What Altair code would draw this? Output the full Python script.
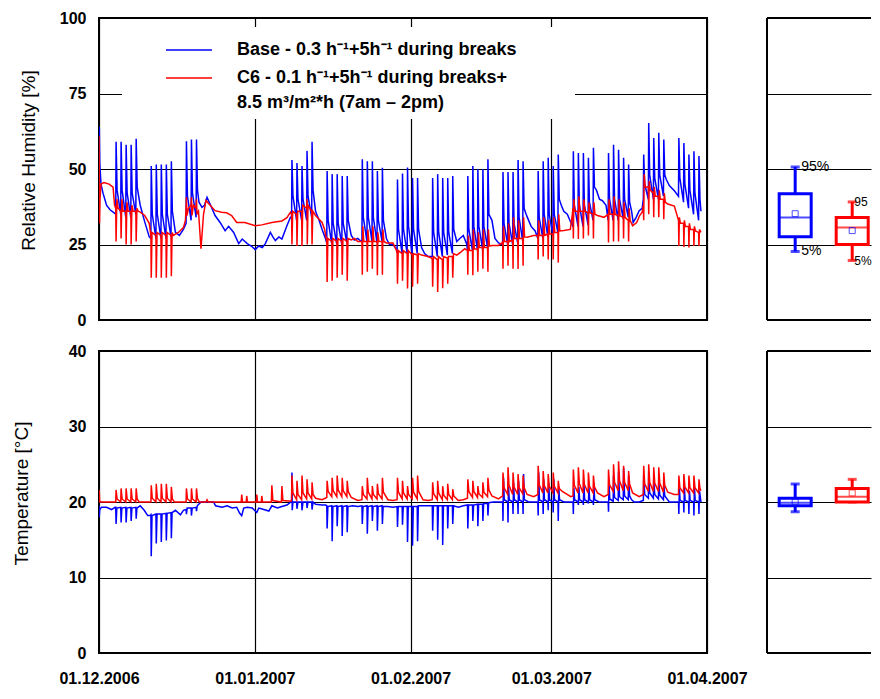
import altair as alt
import pandas as pd

FONT = "Liberation Sans, Arial, sans-serif"
BLUE = "#0000ff"
RED = "#ff0000"

SERIES = ["Base", "C6"]
LEGEND_LABELS = [
    "Base - 0.3 h\u207b\u00b9+5h\u207b\u00b9 during breaks",
    "C6 - 0.1 h\u207b\u00b9+5h\u207b\u00b9 during breaks+",
    "8.5 m\u00b3/m\u00b2*h (7am \u2013 2pm)",
]
RH_TITLE = "Relative Humidity [%]"
T_TITLE = "Temperature [\u00b0C]"
START = "2006-12-01"
MONTHS = ["2006-12-01", "2007-01-01", "2007-02-01", "2007-03-01", "2007-04-01"]

# [days since 01.12.2006, relative humidity %] - Base
BASE_RH = [
    [0.00, 58], [0.06, 64], [0.15, 52], [0.40, 45], [0.80, 42], [1.50, 38], [2.20, 36.5], [3.00, 35.5],
    [3.33, 35], [3.40, 59], [3.60, 43], [4.33, 35], [4.40, 59], [4.60, 43], [5.33, 34], [5.40, 58], [5.60, 42],
    [6.33, 34], [6.40, 58], [6.60, 42], [7.33, 35], [7.40, 60], [7.60, 44],
    [8.20, 38], [9.10, 32.5], [10.00, 27.5],
    [10.33, 27], [10.40, 51], [10.60, 35], [11.33, 27], [11.40, 51.5], [11.60, 35], [12.33, 27], [12.40, 51.5], [12.60, 35],
    [13.33, 27], [13.40, 51.5], [13.60, 35], [14.33, 27.5], [14.40, 52.6], [14.60, 36],
    [15.20, 29], [16.00, 28], [16.80, 30],
    [17.33, 32], [17.40, 59.2], [17.60, 41], [18.33, 33], [18.40, 59.8], [18.60, 42], [19.33, 34], [19.40, 59.8], [19.60, 43],
    [19.90, 39], [20.50, 37.3], [21.00, 38], [21.50, 40.6], [22.10, 38.4], [23.10, 34.6], [24.10, 32.3], [25.10, 29.6],
    [25.80, 31], [26.80, 29], [27.80, 25.3], [28.50, 26.8], [29.50, 25.3], [30.30, 24.5], [31.10, 23.3], [31.80, 24.5],
    [32.50, 24], [33.10, 25.3], [34.10, 29], [34.60, 27.5], [35.10, 26.3], [35.80, 27.5], [36.40, 26.8], [37.40, 31.2], [38.10, 34],
    [38.33, 34], [38.40, 53], [38.60, 41], [39.33, 33], [39.40, 52], [39.60, 40], [40.33, 33], [40.40, 51], [40.60, 40],
    [41.33, 33], [41.40, 56], [41.60, 41], [42.33, 34], [42.40, 59], [42.60, 43],
    [43.10, 36], [43.80, 33], [44.40, 30], [45.10, 26.8],
    [45.33, 25.5], [45.40, 49.3], [45.60, 33], [46.33, 25], [46.40, 48.3], [46.60, 32], [47.33, 25], [47.40, 48.3], [47.60, 32],
    [48.33, 25], [48.40, 47.7], [48.60, 32], [49.33, 25.5], [49.40, 47.7], [49.60, 33],
    [50.20, 28], [50.80, 26.5], [51.50, 27], [52.20, 26],
    [52.33, 26], [52.40, 53.2], [52.60, 34], [53.33, 26], [53.40, 52.6], [53.60, 34], [54.33, 26], [54.40, 52.6], [54.60, 34],
    [55.33, 25.5], [55.40, 49.3], [55.60, 33], [56.33, 26], [56.40, 50.4], [56.60, 33],
    [57.20, 27], [57.80, 25], [58.50, 25], [59.20, 23.5],
    [59.33, 22.5], [59.40, 46.5], [59.60, 30], [60.33, 22], [60.40, 48.5], [60.60, 30], [61.33, 22], [61.40, 50.5], [61.60, 31],
    [62.33, 21.5], [62.40, 47], [62.60, 30], [63.33, 22], [63.40, 47], [63.60, 30],
    [64.20, 24], [64.80, 22], [65.50, 21], [66.20, 21],
    [66.33, 21], [66.40, 47], [66.60, 29], [67.33, 21], [67.40, 48.3], [67.60, 29], [68.33, 21], [68.40, 47], [68.60, 29],
    [69.33, 21.5], [69.40, 47], [69.60, 29], [70.33, 22], [70.40, 47.7], [70.60, 30],
    [71.20, 26], [71.80, 27], [72.50, 28], [73.20, 25],
    [73.33, 23], [73.40, 47.7], [73.60, 30], [74.33, 23], [74.40, 51], [74.60, 31], [75.33, 23], [75.40, 50], [75.60, 31],
    [76.33, 23.5], [76.40, 50], [76.60, 31], [77.33, 24], [77.40, 53.2], [77.60, 35],
    [78.20, 33], [78.80, 27], [79.50, 25.5], [80.20, 25],
    [80.33, 25], [80.40, 49], [80.60, 32], [81.33, 25], [81.40, 49], [81.60, 32], [82.33, 25], [82.40, 49], [82.60, 32],
    [83.33, 25.5], [83.40, 53], [83.60, 34], [84.33, 26], [84.40, 52.6], [84.60, 37],
    [85.00, 35], [85.50, 33], [86.00, 31], [86.80, 29.5],
    [87.33, 27], [87.40, 49.3], [87.60, 34], [88.33, 27], [88.40, 52.6], [88.60, 35], [89.33, 27.5], [89.40, 53.7], [89.60, 35],
    [90.33, 28], [90.40, 51], [90.60, 35], [91.33, 29], [91.40, 54.8], [91.60, 40],
    [92.00, 38], [92.50, 36], [93.20, 35], [93.90, 32.3],
    [94.33, 31], [94.40, 55.9], [94.60, 38], [95.33, 31], [95.40, 55.3], [95.60, 38], [96.33, 31], [96.40, 55.3], [96.60, 38],
    [97.33, 31.5], [97.40, 53.7], [97.60, 39], [98.33, 33], [98.40, 57], [98.60, 44],
    [99.00, 43], [99.60, 40], [100.20, 39.5], [100.90, 38],
    [101.33, 33], [101.40, 55.3], [101.60, 40], [102.33, 33], [102.40, 58], [102.60, 40], [103.33, 33], [103.40, 56.4], [103.60, 40],
    [104.33, 33.5], [104.40, 53.7], [104.60, 40], [105.33, 34], [105.40, 51.5], [105.60, 39],
    [106.00, 36], [106.30, 32.3], [106.90, 34], [107.50, 36.2], [108.10, 37],
    [108.33, 40], [108.40, 54.8], [108.60, 45], [109.33, 40], [109.40, 65.2], [109.60, 48], [110.33, 40], [110.40, 60.3], [110.60, 47],
    [111.33, 40], [111.40, 62], [111.60, 48], [112.33, 41], [112.40, 59.8], [112.60, 48],
    [112.90, 46.5], [113.50, 44.5], [114.50, 42.8], [115.10, 41.5],
    [115.33, 41], [115.40, 60.3], [115.60, 47], [116.33, 39], [116.40, 58.6], [116.60, 45], [117.33, 37], [117.40, 54.8], [117.60, 43],
    [118.33, 35], [118.40, 55.9], [118.60, 42], [119.33, 33], [119.40, 54.3], [119.60, 40], [119.80, 36],
]

# [days, relative humidity %] - C6
C6_RH = [
    [0.00, 61], [0.05, 50], [0.10, 32], [0.20, 40], [0.40, 45], [1.00, 45.5], [2.00, 45], [2.80, 44], [3.10, 38],
    [3.33, 37], [3.40, 26], [3.55, 40], [3.80, 37], [4.33, 36], [4.40, 27], [4.55, 40], [4.80, 36], [5.33, 36], [5.40, 25], [5.55, 39], [5.80, 36],
    [6.33, 36], [6.40, 25], [6.55, 38], [6.80, 36], [7.33, 36], [7.40, 26], [7.55, 37], [7.80, 36],
    [8.20, 35.7], [9.10, 34.6], [10.00, 32],
    [10.33, 28], [10.40, 14], [10.55, 29], [11.33, 28], [11.40, 14], [11.55, 29], [12.33, 28], [12.40, 14], [12.55, 29],
    [13.33, 28], [13.40, 14], [13.55, 29], [14.33, 28], [14.40, 14.5], [14.55, 29],
    [14.80, 28], [15.80, 29], [16.80, 30.6],
    [17.20, 33], [17.33, 37], [17.40, 40.6], [17.50, 34.6], [17.80, 37], [18.33, 38], [18.40, 40.6], [18.50, 34.6], [18.80, 38],
    [19.33, 37], [19.40, 40], [19.50, 35], [19.80, 36],
    [20.30, 23.6], [20.80, 35], [21.30, 39.6], [21.90, 38.4], [23.10, 36.2], [24.40, 35.7], [25.40, 35.5], [26.40, 34.6],
    [27.40, 32.3], [29.00, 32.3], [31.10, 31.2], [32.40, 31.5], [34.40, 32.3], [36.40, 32.8], [37.40, 33.9], [38.10, 35.7],
    [38.33, 35], [38.40, 25], [38.55, 36], [39.33, 35], [39.40, 24.5], [39.55, 36], [40.33, 36], [40.40, 24.5], [40.55, 38],
    [41.33, 37], [41.40, 40], [41.45, 25], [41.60, 38], [42.33, 36], [42.40, 25], [42.55, 36],
    [43.10, 34.6], [44.40, 32.3], [44.90, 30],
    [45.33, 26], [45.40, 12.6], [45.55, 27], [46.33, 26], [46.40, 13], [46.55, 27], [47.33, 26], [47.40, 14], [47.55, 27],
    [48.33, 26], [48.40, 15], [48.55, 27], [49.33, 26], [49.40, 13], [49.55, 27],
    [50.20, 26.5], [50.80, 27], [51.50, 26], [52.20, 26],
    [52.33, 26], [52.40, 15], [52.50, 31], [52.70, 26], [53.33, 26], [53.40, 16], [53.50, 30], [53.70, 26],
    [54.33, 26], [54.40, 17], [54.50, 31], [54.70, 26], [55.33, 26], [55.40, 14.8], [55.50, 29], [55.70, 26],
    [56.33, 26], [56.40, 15], [56.50, 30], [56.70, 26],
    [57.20, 25.5], [58.50, 25.5], [59.20, 23],
    [59.33, 22], [59.40, 12], [59.55, 23], [60.33, 22], [60.40, 13], [60.55, 23], [61.33, 22], [61.40, 10.4], [61.55, 23],
    [62.33, 21.5], [62.40, 11], [62.55, 22], [63.33, 21.5], [63.40, 12], [63.55, 22],
    [64.20, 21.5], [65.50, 21], [66.20, 20.5],
    [66.33, 20], [66.40, 11], [66.55, 21], [67.33, 20], [67.40, 9.3], [67.55, 21], [68.33, 20], [68.40, 10.5], [68.55, 21],
    [69.33, 20.5], [69.40, 12], [69.55, 21], [70.33, 21], [70.40, 14], [70.55, 22],
    [71.20, 21.5], [72.00, 22.5], [72.80, 23.6],
    [73.33, 23], [73.40, 15], [73.50, 28], [73.70, 23], [74.33, 23], [74.40, 14.8], [74.50, 30], [74.70, 23.5],
    [75.33, 23.5], [75.40, 16], [75.50, 29], [75.70, 24], [76.33, 24], [76.40, 17], [76.50, 30], [76.70, 24],
    [77.33, 24], [77.40, 16], [77.50, 30], [77.70, 24.5],
    [78.20, 24.7], [79.50, 24.7], [80.20, 25.5],
    [80.33, 26], [80.40, 17], [80.50, 31], [80.70, 26], [81.33, 26], [81.40, 18], [81.50, 32], [81.70, 26],
    [82.33, 26.5], [82.40, 17], [82.50, 34], [82.70, 27], [83.33, 27], [83.40, 16.9], [83.50, 33], [83.70, 27],
    [84.33, 27], [84.40, 18], [84.50, 34], [84.70, 27.5],
    [85.20, 27.4], [86.50, 28],
    [87.33, 28], [87.40, 20], [87.50, 33], [87.70, 28], [88.33, 28], [88.40, 21], [88.50, 34], [88.70, 28],
    [89.33, 28.5], [89.40, 20], [89.50, 33], [89.70, 28.5], [90.33, 28.5], [90.40, 20], [90.50, 34], [90.70, 29],
    [91.33, 29], [91.40, 19], [91.50, 35], [91.70, 29.5],
    [92.50, 29.6], [93.80, 30],
    [94.20, 35], [94.33, 37], [94.40, 27], [94.50, 40], [94.70, 36], [95.33, 36], [95.40, 26.8], [95.50, 41], [95.70, 36],
    [96.33, 36], [96.40, 27], [96.50, 40], [96.70, 36], [97.33, 35.5], [97.40, 28], [97.50, 39], [97.70, 35.5],
    [98.33, 35], [98.40, 27], [98.50, 39], [98.70, 35],
    [99.20, 34.6], [100.50, 34],
    [101.33, 35], [101.40, 25.7], [101.50, 40], [101.70, 35], [102.33, 35], [102.40, 26], [102.50, 41], [102.70, 35],
    [103.33, 34.5], [103.40, 26], [103.50, 40], [103.70, 34.5], [104.33, 34], [104.40, 27], [104.50, 39], [104.70, 34],
    [105.33, 33], [105.40, 26], [105.50, 37], [105.70, 33],
    [106.20, 31.2], [107.00, 32.3], [107.60, 34.6], [108.10, 35.7],
    [108.33, 38], [108.40, 33], [108.50, 48.3], [108.70, 44], [109.33, 44], [109.40, 35], [109.50, 46], [109.70, 43],
    [110.33, 42], [110.40, 34], [110.50, 44], [110.70, 41], [111.33, 41], [111.40, 34], [111.50, 43], [111.70, 40],
    [112.33, 40], [112.40, 33.4], [112.50, 42], [112.70, 39],
    [113.20, 38.4], [114.50, 37.7],
    [115.33, 33], [115.40, 24.5], [115.50, 34], [115.70, 32], [116.33, 32], [116.40, 24.2], [116.50, 33], [116.70, 31],
    [117.33, 31], [117.40, 24], [117.50, 32], [117.70, 30], [118.33, 30], [118.40, 24.5], [118.50, 31], [118.70, 29.5],
    [119.33, 29], [119.40, 24.5], [119.50, 30], [119.80, 29],
]

# [days, temperature degC] - Base
BASE_T = [
    [0.00, 19.5], [0.05, 18], [0.15, 19], [0.50, 19.3], [1.50, 19.3], [2.50, 19], [3.20, 19.3],
    [3.33, 19.3], [3.40, 17.1], [3.55, 19.2], [4.33, 19.3], [4.40, 17.3], [4.55, 19.2], [5.33, 19.3], [5.40, 17.3], [5.55, 19.2],
    [6.33, 19.3], [6.40, 17.5], [6.55, 19.2], [7.33, 19.3], [7.40, 17.8], [7.55, 19.2],
    [8.20, 19.5], [9.00, 18.9], [9.70, 18.2], [10.20, 18.2],
    [10.33, 18.3], [10.40, 12.8], [10.55, 18.2], [11.33, 18.4], [11.40, 14.5], [11.55, 18.4], [12.33, 18.4], [12.40, 14.7], [12.55, 18.4],
    [13.33, 18.5], [13.40, 14.9], [13.55, 18.5], [14.33, 18.6], [14.40, 15.2], [14.55, 18.6],
    [15.20, 18.9], [16.20, 18.3], [16.80, 18.9],
    [17.33, 19], [17.40, 18.4], [17.55, 19.2], [18.33, 19.2], [18.40, 18.2], [18.55, 19.2], [19.33, 19.3], [19.40, 18.8], [19.55, 19.5],
    [20.30, 20], [22.80, 20], [23.20, 19.5], [24.50, 19.3], [25.50, 19.5], [26.50, 19.2], [27.40, 19.3], [28.00, 18.5],
    [28.40, 18.2], [28.80, 19.2], [29.50, 19.3], [30.50, 19.2], [31.40, 18.6], [31.80, 19.2], [32.80, 19], [33.80, 18.8],
    [34.40, 19.5], [35.50, 19.2], [36.40, 19.4], [37.40, 19.6], [38.20, 20],
    [38.33, 20], [38.40, 23.9], [38.45, 18.9], [38.60, 20], [39.33, 20], [39.40, 19.1], [39.60, 20], [40.33, 20], [40.40, 18.9], [40.60, 20],
    [41.33, 20], [41.40, 19.2], [41.60, 20], [42.33, 20], [42.40, 19], [42.60, 20],
    [43.10, 19.7], [44.40, 19.6], [45.10, 19.6],
    [45.33, 19.5], [45.40, 16.5], [45.55, 19.4], [46.33, 19.5], [46.40, 14.8], [46.55, 19.4], [47.33, 19.5], [47.40, 16.8], [47.55, 19.4],
    [48.33, 19.5], [48.40, 15.5], [48.55, 19.4], [49.33, 19.5], [49.40, 16], [49.55, 19.4],
    [50.50, 19.5], [51.50, 19.4],
    [52.33, 19.5], [52.40, 17.1], [52.55, 19.4], [53.33, 19.5], [53.40, 15.8], [53.55, 19.4], [54.33, 19.5], [54.40, 17.5], [54.55, 19.4],
    [55.33, 19.5], [55.40, 16.2], [55.55, 19.4], [56.33, 19.5], [56.40, 17.1], [56.55, 19.4],
    [57.50, 19.4], [58.50, 19.3],
    [59.33, 19.4], [59.40, 16.7], [59.55, 19.4], [60.33, 19.4], [60.40, 17], [60.55, 19.4], [61.33, 19.4], [61.40, 14.7], [61.55, 19.4],
    [62.33, 19.4], [62.40, 14.2], [62.55, 19.4], [63.33, 19.4], [63.40, 14.8], [63.55, 19.5],
    [64.50, 19.5], [65.50, 19.5],
    [66.33, 19.5], [66.40, 16.2], [66.55, 19.5], [67.33, 19.5], [67.40, 15], [67.55, 19.5], [68.33, 19.5], [68.40, 14.3], [68.55, 19.5],
    [69.33, 19.5], [69.40, 16.5], [69.55, 19.5], [70.33, 19.5], [70.40, 17.1], [70.55, 19.5],
    [71.50, 19.3], [72.50, 19.5],
    [73.33, 19.6], [73.40, 16.5], [73.55, 19.6], [74.33, 19.6], [74.40, 17.5], [74.55, 19.6], [75.33, 19.7], [75.40, 16.8], [75.55, 19.7],
    [76.33, 19.7], [76.40, 17.5], [76.55, 19.8], [77.33, 19.8], [77.40, 18.2], [77.55, 19.9],
    [78.50, 20], [79.50, 20],
    [80.33, 20], [80.40, 17.5], [80.50, 23.2], [80.65, 20.3], [81.33, 20], [81.40, 17.3], [81.50, 22], [81.65, 20.3],
    [82.33, 20], [82.40, 18.4], [82.50, 22.5], [82.65, 20.3], [83.33, 20], [83.40, 18.4], [83.50, 22.8], [83.65, 20.3],
    [84.33, 20], [84.40, 18.4], [84.50, 23.7], [84.65, 20.3],
    [85.50, 20], [86.50, 20],
    [87.33, 20], [87.40, 18.2], [87.50, 23.9], [87.65, 20.3], [88.33, 20], [88.40, 18.4], [88.50, 23], [88.65, 20.3],
    [89.33, 20], [89.40, 18.9], [89.50, 22.5], [89.65, 20.3], [90.33, 20], [90.40, 18.6], [90.50, 23], [90.65, 20.3],
    [91.33, 20], [91.40, 17.5], [91.50, 22], [91.65, 20.3],
    [92.50, 20], [93.50, 20],
    [94.33, 20], [94.40, 18.4], [94.50, 21.9], [94.65, 20.3], [95.33, 20], [95.40, 19.6], [95.50, 22], [95.65, 20.3],
    [96.33, 20], [96.40, 19.6], [96.50, 22.5], [96.65, 20.3], [97.33, 20], [97.40, 19.8], [97.50, 22], [97.65, 20.3],
    [98.33, 20], [98.40, 19.6], [98.50, 22], [98.65, 20.3],
    [99.50, 20], [100.50, 20],
    [101.33, 20], [101.40, 18.7], [101.50, 22.5], [101.65, 20.4], [102.33, 20.1], [102.40, 23.5], [102.60, 20.6],
    [103.33, 20.2], [103.40, 24], [103.60, 20.7], [104.33, 20.3], [104.40, 24.5], [104.60, 20.8], [105.33, 20.3], [105.40, 23.5], [105.60, 20.8],
    [106.00, 20.3], [106.50, 20], [107.50, 20],
    [108.33, 20.2], [108.40, 23.5], [108.60, 21], [109.33, 20.5], [109.40, 24], [109.60, 21.2], [110.33, 20.5], [110.40, 23], [110.60, 21],
    [111.33, 20.4], [111.40, 23], [111.60, 20.9], [112.33, 20.3], [112.40, 22.5], [112.60, 20.8],
    [113.50, 20], [114.50, 20],
    [115.33, 20], [115.40, 18.4], [115.50, 21.8], [115.65, 20.2], [116.33, 20], [116.40, 18.6], [116.50, 22], [116.65, 20.2],
    [117.33, 20], [117.40, 18.4], [117.50, 21.5], [117.65, 20.2], [118.33, 20], [118.40, 18.2], [118.50, 22], [118.65, 20.2],
    [119.33, 20], [119.40, 18.4], [119.50, 21.5], [119.80, 20],
]

# [days, temperature degC] - C6
C6_T = [
    [0.00, 20], [0.04, 21.6], [0.15, 20], [3.20, 20],
    [3.33, 20], [3.40, 21.6], [3.60, 20.4], [4.33, 20], [4.40, 21.8], [4.60, 20.4], [5.33, 20], [5.40, 21.8], [5.60, 20.4],
    [6.33, 20], [6.40, 21.8], [6.60, 20.4], [7.33, 20], [7.40, 21.8], [7.60, 20.4], [8.00, 20],
    [10.33, 20], [10.40, 22.2], [10.60, 20.5], [11.33, 20], [11.40, 22.4], [11.60, 20.5], [12.33, 20], [12.40, 22.4], [12.60, 20.5],
    [13.33, 20], [13.40, 22.4], [13.60, 20.5], [14.33, 20], [14.40, 22], [14.60, 20.4], [15.00, 20],
    [17.33, 20], [17.40, 21.8], [17.60, 20.4], [18.33, 20], [18.40, 21.8], [18.60, 20.4], [19.33, 20], [19.40, 21.8], [19.60, 20.4], [20.00, 20],
    [21.30, 20], [21.50, 20.3], [21.70, 20], [28.30, 20], [28.40, 21], [28.55, 20], [29.30, 20], [29.40, 20.8], [29.55, 20],
    [31.30, 20], [31.40, 21], [31.55, 20], [32.30, 20], [32.40, 20.8], [32.55, 20], [34.30, 20], [34.40, 22.2], [34.60, 20.2],
    [36.30, 20], [36.40, 22.1], [36.60, 20.2], [38.20, 20.1],
    [38.33, 20.3], [38.40, 23.5], [38.60, 21.2], [39.33, 20.3], [39.40, 22.8], [39.60, 21], [40.33, 20.3], [40.40, 23.5], [40.60, 21.2],
    [41.33, 20.4], [41.40, 23], [41.60, 21.2], [42.33, 20.4], [42.40, 22.6], [42.60, 21],
    [43.10, 20.5], [44.40, 20.3],
    [45.33, 20.6], [45.40, 22.8], [45.60, 21.4], [46.33, 20.7], [46.40, 23.2], [46.60, 21.5], [47.33, 20.7], [47.40, 23.5], [47.60, 21.6],
    [48.33, 20.7], [48.40, 23.2], [48.60, 21.5], [49.33, 20.7], [49.40, 22.8], [49.60, 21.4],
    [50.20, 20.6], [51.50, 20.2],
    [52.33, 20.3], [52.40, 22.1], [52.60, 21], [53.33, 20.4], [53.40, 23.2], [53.60, 21.3], [54.33, 20.4], [54.40, 22.1], [54.60, 21],
    [55.33, 20.4], [55.40, 22.4], [55.60, 21.1], [56.33, 20.4], [56.40, 23.2], [56.60, 21.3],
    [57.50, 20.3], [58.50, 20.2],
    [59.33, 20.3], [59.40, 23.2], [59.60, 21.3], [60.33, 20.4], [60.40, 22.8], [60.60, 21.2], [61.33, 20.4], [61.40, 22.1], [61.60, 21],
    [62.33, 20.4], [62.40, 23.2], [62.60, 21.3], [63.33, 20.4], [63.40, 23.5], [63.60, 21.4],
    [64.50, 20.3], [65.50, 20.2],
    [66.33, 20.3], [66.40, 22.6], [66.60, 21.1], [67.33, 20.3], [67.40, 22.8], [67.60, 21.2], [68.33, 20.3], [68.40, 22.1], [68.60, 20.9],
    [69.33, 20.3], [69.40, 22.4], [69.60, 21], [70.33, 20.3], [70.40, 21.7], [70.60, 20.8],
    [71.50, 20.2], [72.50, 20.3],
    [73.33, 20.5], [73.40, 23], [73.60, 21.4], [74.33, 20.6], [74.40, 22.8], [74.60, 21.4], [75.33, 20.6], [75.40, 22.1], [75.60, 21.1],
    [76.33, 20.6], [76.40, 22.6], [76.60, 21.3], [77.33, 20.7], [77.40, 23.2], [77.60, 21.6],
    [78.20, 20.8], [79.50, 20.4],
    [80.33, 20.8], [80.40, 23.9], [80.60, 21.9], [81.33, 21], [81.40, 24.6], [81.60, 22.2], [82.33, 21], [82.40, 23.9], [82.60, 22],
    [83.33, 21], [83.40, 23.7], [83.60, 21.9], [84.33, 21.1], [84.40, 23.5], [84.60, 21.9],
    [85.20, 21], [86.50, 20.7],
    [87.33, 21], [87.40, 24.8], [87.60, 22.3], [88.33, 21.2], [88.40, 24.1], [88.60, 22.2], [89.33, 21.2], [89.40, 23.7], [89.60, 22.1],
    [90.33, 21.2], [90.40, 23.9], [90.60, 22.1], [91.33, 21.2], [91.40, 22.8], [91.60, 21.8],
    [92.20, 21.4], [93.90, 20.7],
    [94.33, 20.8], [94.40, 24.3], [94.60, 22.2], [95.33, 21.2], [95.40, 24.6], [95.60, 22.4], [96.33, 21.2], [96.40, 24.3], [96.60, 22.3],
    [97.33, 21.2], [97.40, 23.9], [97.60, 22.1], [98.33, 21.2], [98.40, 23.5], [98.60, 22],
    [99.20, 21.2], [100.50, 20.7],
    [101.33, 21], [101.40, 24.3], [101.60, 22.3], [102.33, 21.4], [102.40, 25], [102.60, 22.6], [103.33, 21.5], [103.40, 25.4], [103.60, 22.8],
    [104.33, 21.5], [104.40, 24.8], [104.60, 22.6], [105.33, 21.5], [105.40, 24.1], [105.60, 22.4],
    [106.20, 21.2], [107.50, 20.7],
    [108.33, 21], [108.40, 24.8], [108.60, 22.4], [109.33, 21.4], [109.40, 25], [109.60, 22.6], [110.33, 21.4], [110.40, 24.6], [110.60, 22.5],
    [111.33, 21.4], [111.40, 24.6], [111.60, 22.5], [112.33, 21.3], [112.40, 23.9], [112.60, 22.2],
    [113.20, 21.3], [114.50, 21],
    [115.33, 21], [115.40, 23.5], [115.60, 21.9], [116.33, 21.2], [116.40, 23.7], [116.60, 22], [117.33, 21.2], [117.40, 23.5], [117.60, 21.9],
    [118.33, 21.2], [118.40, 23.5], [118.60, 21.9], [119.33, 21.2], [119.40, 23], [119.60, 21.8], [119.80, 21.5],
]

# box plot statistics: 5%, 25%, median, 75%, 95%, mean
RH_P5 = [22.7, 19.7]
RH_Q1 = [27.6, 25.0]
RH_MED = [33.9, 30.6]
RH_Q3 = [41.8, 33.9]
RH_P95 = [50.7, 39.1]
RH_MEAN = [35.2, 29.6]

T_P5 = [18.7, 20.0]
T_Q1 = [19.5, 20.0]
T_MED = [19.9, 20.7]
T_Q3 = [20.5, 21.8]
T_P95 = [22.4, 23.0]
T_MEAN = [20.0, 21.2]

# percentile labels as visible next to each box (the C6 ones are cut at the page edge)
P95_LABELS = ["95%", "95"]
P5_LABELS = ["5%", "5%"]


def series_frame(pairs, name):
    df = pd.DataFrame(pairs, columns=["day", "value"])
    ts = pd.Timestamp(START) + pd.to_timedelta(df["day"], unit="D")
    df["time"] = ts.dt.strftime("%Y-%m-%dT%H:%M:%S")
    df["series"] = name
    return df


def dt(s):
    t = pd.Timestamp(s)
    return alt.DateTime(year=t.year, month=t.month, date=t.day)


color_scale = alt.Scale(domain=SERIES, range=[BLUE, RED])
x_scale = alt.Scale(domain=[dt(MONTHS[0]), dt(MONTHS[-1])])
month_values = [dt(m) for m in MONTHS]

W_LEFT, W_RIGHT, H = 608, 104, 302


def line_panel(blue_pairs, red_pairs, ymax, yvals, title, title_x, show_x_labels):
    x_axis = alt.Axis(values=month_values, grid=True, labels=show_x_labels, format="%d.%m.%Y",
                      labelFlush=False, labelOverlap=False, labelPadding=17, title=None)
    y_axis = alt.Axis(values=yvals, grid=True, labelPadding=13, title=title,
                      titleX=title_x, titleY=142, titleBaseline="middle", titleAngle=270)
    enc_x = alt.X("time:T", scale=x_scale, axis=x_axis)
    enc_y = alt.Y("value:Q", scale=alt.Scale(domain=[0, ymax], nice=False), axis=y_axis)
    blue = alt.Chart(series_frame(blue_pairs, SERIES[0])).mark_line(
        color=BLUE, strokeWidth=1.5, clip=True).encode(x=enc_x, y=enc_y)
    red = alt.Chart(series_frame(red_pairs, SERIES[1])).mark_line(
        color=RED, strokeWidth=1.5, clip=True).encode(x=enc_x, y=enc_y)
    return blue, red


rh_blue, rh_red = line_panel(BASE_RH, C6_RH, 100, [0, 25, 50, 75, 100], RH_TITLE, -71, False)
t_blue, t_red = line_panel(BASE_T, C6_T, 40, [0, 10, 20, 30, 40], T_TITLE, -78, True)

one = pd.DataFrame({"k": [0]})
legend_box = alt.Chart(one).mark_rect(fill="white").encode(
    x=alt.value(23), x2=alt.value(476), y=alt.value(9), y2=alt.value(101))
leg_blue = alt.Chart(one).mark_rule(color=BLUE, strokeWidth=1.5).encode(
    x=alt.value(67), x2=alt.value(113), y=alt.value(32))
leg_red = alt.Chart(one).mark_rule(color=RED, strokeWidth=1.5).encode(
    x=alt.value(67), x2=alt.value(113), y=alt.value(60))
leg_texts = [
    alt.Chart(one).mark_text(align="left", baseline="middle", font=FONT, fontSize=18,
                             fontWeight="bold", color="black").encode(
        x=alt.value(138), y=alt.value(yy), text=alt.value(lbl))
    for lbl, yy in zip(LEGEND_LABELS, [32, 60, 85])
]

rh_chart = alt.layer(legend_box, rh_blue, rh_red, leg_blue, leg_red, *leg_texts).properties(
    width=W_LEFT, height=H)
t_chart = alt.layer(t_blue, t_red).properties(width=W_LEFT, height=H)


def box_panel(p5, q1, med, q3, p95, mean, ymax, yvals, with_labels, mean_blue):
    df = pd.DataFrame({"series": SERIES, "p5": p5, "q1": q1, "med": med, "q3": q3,
                       "p95": p95, "mean": mean, "l95": P95_LABELS, "l5": P5_LABELS})
    xs = alt.X("series:N", scale=alt.Scale(type="point", padding=0.412, align=0.6), axis=None)
    ysc = alt.Scale(domain=[0, ymax], nice=False)
    y_axis = alt.Axis(values=yvals, grid=True, labels=False, title=None)
    col = alt.Color("series:N", scale=color_scale, legend=None)
    base = alt.Chart(df)
    top = base.mark_rule(color="black", strokeWidth=2).encode(y=alt.datum(ymax, scale=ysc))
    bottom = base.mark_rule(color="black", strokeWidth=2).encode(y=alt.datum(0))
    left = base.mark_rule(color="black", strokeWidth=2).encode(x=alt.value(0))
    whisk_lo = base.mark_rule(strokeWidth=3).encode(
        x=xs, y=alt.Y("p5:Q", scale=ysc, axis=y_axis), y2="q1", color=col)
    whisk_hi = base.mark_rule(strokeWidth=3).encode(x=xs, y="q3:Q", y2="p95", color=col)
    cap_lo = base.mark_tick(orient="horizontal", size=9, thickness=3).encode(x=xs, y="p5:Q", color=col)
    cap_hi = base.mark_tick(orient="horizontal", size=9, thickness=3).encode(x=xs, y="p95:Q", color=col)
    box = base.mark_bar(width=32, fill="white", strokeWidth=3).encode(
        x=xs, y="q1:Q", y2="q3", stroke=alt.Stroke("series:N", scale=color_scale, legend=None))
    median = base.mark_tick(orient="horizontal", size=32, thickness=2).encode(x=xs, y="med:Q", color=col)
    if mean_blue:
        mean_pt = base.mark_point(shape="square", size=36, filled=False, strokeWidth=1,
                                  color=BLUE).encode(x=xs, y="mean:Q")
    else:
        mean_pt = base.mark_point(shape="square", size=36, filled=False, strokeWidth=1).encode(
            x=xs, y="mean:Q", color=col)
    layers = [whisk_lo, whisk_hi, cap_lo, cap_hi, box, median, mean_pt]
    if with_labels:
        for name, off, fs in zip(SERIES, [6, 2], [14, 12]):
            sub = base.transform_filter(alt.datum.series == name)
            for field, lab in [("p95", "l95"), ("p5", "l5")]:
                layers.append(sub.mark_text(
                    align="left", baseline="middle", dx=off, fontSize=fs, font=FONT,
                    color="black").encode(x=xs, y=f"{field}:Q", text=f"{lab}:N"))
    layers += [top, bottom, left]
    return alt.layer(*layers).properties(
        width=W_RIGHT, height=H,
        view=alt.ViewBackground(stroke="transparent", strokeWidth=0))


rh_box = box_panel(RH_P5, RH_Q1, RH_MED, RH_Q3, RH_P95, RH_MEAN, 100, [25, 50, 75], True, True)
t_box = box_panel(T_P5, T_Q1, T_MED, T_Q3, T_P95, T_MEAN, 40, [10, 20, 30], False, False)

chart = alt.concat(rh_chart, rh_box, t_chart, t_box, columns=2,
                   spacing={"row": 31, "column": 60}, bounds="flush").properties(
    padding={"left": 3, "top": 1, "right": 0, "bottom": 0}
).configure_view(stroke="black", strokeWidth=2).configure_axis(
    gridColor="black", gridOpacity=1, gridWidth=1.2, domain=False, ticks=False,
    labelFont=FONT, labelFontWeight="bold", labelFontSize=16, labelColor="black",
    titleFont=FONT, titleFontWeight="normal", titleFontSize=19, titleColor="black",
)

chart.save("out.html", embed_options={"renderer": "svg", "actions": False})
